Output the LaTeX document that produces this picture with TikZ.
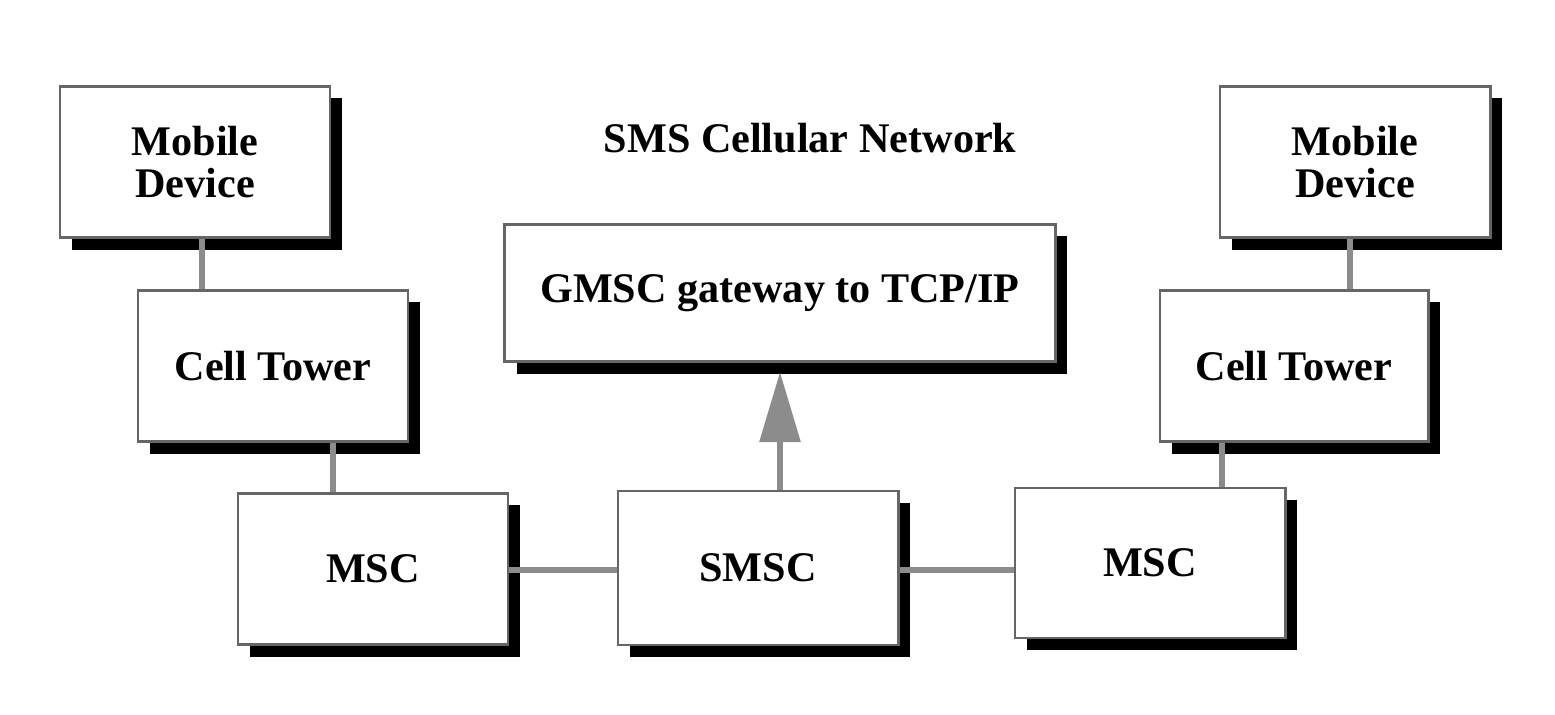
\documentclass[tikz,border=0pt]{standalone}
\usepackage{fontspec}
\setmainfont{Liberation Serif}
\usetikzlibrary{shadows,arrows.meta}

\begin{document}
\begin{tikzpicture}[x=0.01cm, y=-0.01cm,
	box/.style={draw=black!60, line width=0.8pt, fill=white, font=\fontsize{12}{12}\selectfont\bfseries, align=center, inner sep=1pt,
		drop shadow={shadow xshift=0.12cm, shadow yshift=-0.12cm, fill=black, opacity=1}},
	link/.style={draw=black!45, line width=0.06cm}]
			\useasboundingbox (0, 0) rectangle (1555, 714);
			\node[box, minimum width=2.7cm, minimum height=1.51cm] 	(mobile_l) 	at (195, 162) 	{Mobile\\Device};
			\node[box, minimum width=2.7cm, minimum height=1.51cm] 	(tower_l) 	at (273, 366) 	{Cell Tower};
			\node[box, minimum width=2.7cm, minimum height=1.51cm] 	(msc_l) 	at (373, 569) 	{MSC};
			\node[box, minimum width=2.8cm, minimum height=1.54cm] 	(smsc) 		at (758, 568) 	{SMSC};
			\node[box, minimum width=2.7cm, minimum height=1.5cm] 	(msc_r) 	at (1150, 563) 	{MSC};
			\node[box, minimum width=2.68cm, minimum height=1.51cm] 	(tower_r) 	at (1294, 366) 	{Cell Tower};
			\node[box, minimum width=2.7cm, minimum height=1.51cm] 	(mobile_r) 	at (1355, 162) 	{Mobile\\Device};
			\node[box, minimum width=5.5cm, minimum height=1.37cm] 	(gmsc) 		at (780, 293) 	{GMSC gateway to TCP/IP};
			\node[font=\fontsize{12}{12}\selectfont\bfseries] 	(title) 	at (810, 138) 	{SMS Cellular Network};
			\coordinate (tip) at (780, 372);

			\draw[link] (mobile_l.south -| 202, 0) -- (tower_l.north -| 202, 0);
			\draw[link] (tower_l.south -| 333, 0) -- (msc_l.north -| 333, 0);
			\draw[link] (msc_l.east |- 0, 570) -- (smsc.west |- 0, 570);
			\draw[link] (smsc.east |- 0, 570) -- (msc_r.west |- 0, 570);
			\draw[link] (tower_r.south -| 1222, 0) -- (msc_r.north -| 1222, 0);
			\draw[link] (mobile_r.south -| 1350, 0) -- (tower_r.north -| 1350, 0);
			\draw[link, -{Triangle[width=0.4cm, length=0.7cm]}] (smsc.north -| tip) -- (tip);
		\end{tikzpicture}
\end{document}
